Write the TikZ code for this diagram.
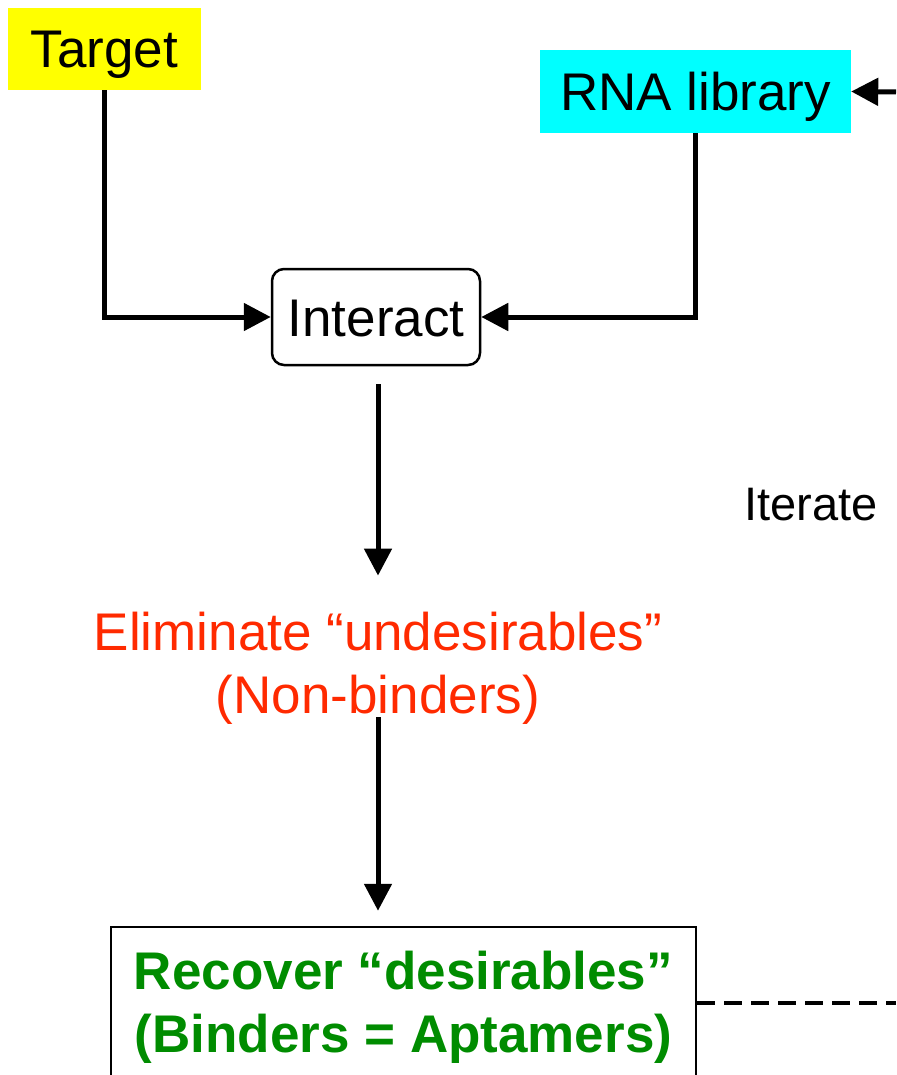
\documentclass[tikz,border=0pt]{standalone}
\usepackage{fontspec}
\setmainfont{Liberation Sans}
\usetikzlibrary{arrows.meta}
\definecolor{redc}{RGB}{255,42,0}
\definecolor{greenc}{RGB}{0,140,0}
\definecolor{cyanc}{RGB}{0,255,255}
\definecolor{yellowc}{RGB}{255,255,0}
\begin{document}
\begin{tikzpicture}[x=1pt,y=-1pt,
  big/.style={font=\fontsize{53}{63}\selectfont},
  capbox/.style={big,inner sep=0pt,text height=38pt,text depth=0pt},
  conn/.style={line width=5pt},
  arr/.style={conn,-{Triangle[length=27pt,width=27pt]}}]
\useasboundingbox (0,0) rectangle (896,1075);
\fill[white] (0,0) rectangle (896,1075);
\node[capbox,fill=yellowc,minimum width=193pt,minimum height=82pt] (target) at (104.5,49) {Target};
\node[capbox,fill=cyanc,minimum width=311pt,minimum height=83pt] (rna) at (695.5,91.5) {RNA library};
\node[capbox,draw,line width=2.5pt,rounded corners=12pt,minimum width=208pt,minimum height=96pt] (interact) at (376,317) {Interact};
\node[big,inner sep=0pt,text=redc,align=center] (elim) at (378,668) {Eliminate “undesirables”\\(Non-binders)};
\node[big,font=\fontsize{53}{63}\selectfont\bfseries,inner sep=0pt,text=greenc,align=center,draw=black,line width=2.5pt,minimum width=585pt,minimum height=160pt] (recover) at (403.5,1007) {Recover “desirables”\\(Binders = Aptamers)};
\node[capbox,text height=34pt,font=\fontsize{47}{56}\selectfont] (iterate) at (811,503) {Iterate};
\coordinate (loopin) at (896,92);
\coordinate (loopout) at (896,1003);
\draw[arr] (target.south) |- (interact.west);
\draw[arr] (rna.south) |- (interact.east);
\draw[arr] (loopin) -- (rna.east);
\draw[arr,shorten <=18pt,shorten >=36pt] (interact.south -| elim.north) -- (elim.north);
\draw[arr,shorten <=-7pt,shorten >=15pt] (elim.south) -- (elim.south |- recover.north);
\draw[conn,line width=4pt,dash pattern=on 18pt off 9pt] (recover.east |- loopout) -- (loopout);
\end{tikzpicture}
\end{document}
